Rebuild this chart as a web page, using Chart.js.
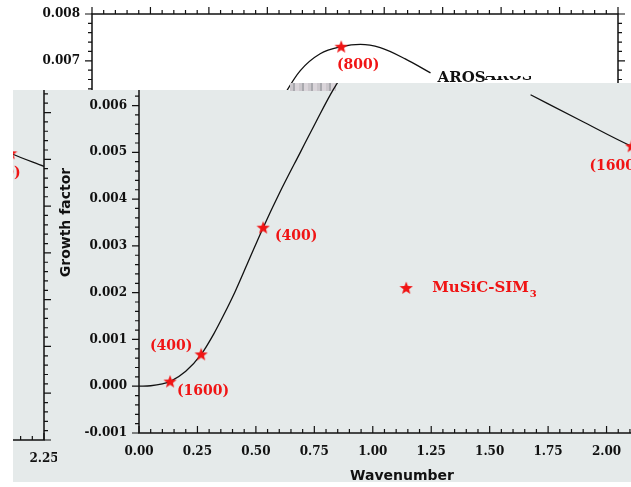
<!DOCTYPE html>
<html>
<head>
<meta charset="utf-8">
<script src="https://cdn.jsdelivr.net/npm/chart.js@4/dist/chart.umd.min.js"></script>
<style>
  html, body { margin: 0; padding: 0; background: #fff; width: 631px; height: 487px; overflow: hidden; position: relative; }
  .layer { position: absolute; left: 0; top: 0; width: 631px; height: 487px; overflow: hidden; }
  .layer canvas { position: absolute; }
  #backLayer { clip-path: polygon(0 0, 631px 0, 631px 91px, 0 91px); }
  #panel { background: #e5eaea; clip-path: polygon(13px 90px, 336px 90px, 336px 83px, 631px 83px, 631px 482px, 13px 482px); }
  #smudge { position: absolute; left: 290px; top: 83px; width: 46px; height: 8px;
            background: repeating-linear-gradient(90deg, #cbc7cc 0 3px, #a9a9ae 3px 5px, #dad5da 5px 9px); }
  #mainLayer { clip-path: polygon(13px 90px, 290px 90px, 290px 83px, 483px 83px, 483px 76px, 531px 76px, 531px 83px,
                                  631px 83px, 631px 482px, 13px 482px); }
  #stripLayer { clip-path: polygon(13px 90px, 57px 90px, 57px 482px, 13px 482px); }
</style>
</head>
<body>
<div class="layer" id="backLayer"><canvas id="backFig" width="690" height="487" style="left:-47px;top:2px;width:690px;height:487px"></canvas></div>
<div class="layer" id="panel"></div>
<div id="smudge"></div>
<div class="layer" id="stripLayer"><canvas id="stripFig" width="690" height="487" style="left:-621px;top:7px;width:690px;height:487px"></canvas></div>
<div class="layer" id="mainLayer"><canvas id="mainFig" width="690" height="487" style="left:0;top:0;width:690px;height:487px"></canvas></div>
<script>
// Growth factor of the unstable mode versus wavenumber
const wavenumber = [0.00, 0.05, 0.10, 0.133, 0.20, 0.266, 0.32, 0.36, 0.41, 0.467, 0.531, 0.60,
                    0.69, 0.758, 0.831, 0.891, 0.976, 1.066, 1.148, 1.233, 1.34, 1.448, 1.56, 1.675, 1.889, 2.107, 2.25];
const growth = [0.0, 0.00001, 0.00005, 0.0001, 0.00032, 0.00068, 0.00112, 0.00150, 0.00201, 0.00266, 0.00339, 0.00412,
                0.00500, 0.00566, 0.00634, 0.00679, 0.00715, 0.0073, 0.00735, 0.00728, 0.00704, 0.00674, null, 0.00623, 0.00568, 0.00513, 0.00485];

// MuSiC-SIM3 runs, labelled by resolution
const starWavenumber = [0.133, 0.266, 0.531, 1.066, 2.107];
const starGrowth = [0.0001, 0.00068, 0.00339, 0.0073, 0.00513];
const starLabels = ['(1600)', '(400)', '(400)', '(800)', '(1600)'];

const xTickValues = [0, 0.25, 0.5, 0.75, 1.0, 1.25, 1.5, 1.75, 2.0, 2.25];
const yTickValues = [-0.001, 0, 0.001, 0.002, 0.003, 0.004, 0.005, 0.006, 0.007, 0.008];

const curveName = 'AROS';
const legendName = 'MuSiC-SIM';
const legendSub = '3';

// placement of annotations (data units / pixel shifts)
const curveNameAt = [1.478, 0.00663];
const legendAt = [1.143, 0.0021];
const labelShift = [[33, 10], [-30, -8], [33, 9], [17, 19], [-16, 20]];

const RED = '#f01414';
const INK = '#111';

function starImage(size, color) {
  const c = document.createElement('canvas');
  c.width = c.height = size;
  const g = c.getContext('2d');
  const r = size / 2, ri = r * 0.42, cy = r * 1.06;
  g.beginPath();
  for (let i = 0; i < 10; i++) {
    const a = -Math.PI / 2 + i * Math.PI / 5;
    const rr = i % 2 ? ri : r;
    g.lineTo(r + rr * Math.cos(a), cy + rr * Math.sin(a));
  }
  g.closePath();
  g.fillStyle = color;
  g.fill();
  return c;
}
const starImg = starImage(14, RED);

// box frame with minor/major tick marks on all four sides
const framePlugin = {
  id: 'frame',
  afterDraw(chart) {
    const { ctx, chartArea: a, scales: { x, y } } = chart;
    ctx.save();
    ctx.strokeStyle = INK;
    ctx.lineWidth = 1.5;
    ctx.strokeRect(a.left, a.top, a.right - a.left, a.bottom - a.top);
    ctx.lineWidth = 1.2;
    ctx.beginPath();
    for (let i = 0; i <= 45; i++) {
      const px = x.getPixelForValue(i * 0.05);
      const len = i % 5 === 0 ? 7 : 4;
      ctx.moveTo(px, a.bottom); ctx.lineTo(px, a.bottom - len);
      ctx.moveTo(px, a.top); ctx.lineTo(px, a.top - len);
    }
    for (let i = 0; i <= 45; i++) {
      const py = y.getPixelForValue(-0.001 + i * 0.0002);
      const len = i % 5 === 0 ? 7 : 4;
      ctx.moveTo(a.left, py); ctx.lineTo(a.left - len, py);
      ctx.moveTo(a.right, py); ctx.lineTo(a.right + len, py);
    }
    ctx.stroke();
    ctx.restore();
  }
};

// resolution labels, curve name and legend entry
const annotatePlugin = {
  id: 'annotate',
  afterDatasetsDraw(chart) {
    const { ctx, scales: { x, y } } = chart;
    ctx.save();
    ctx.textBaseline = 'middle';
    ctx.textAlign = 'center';
    ctx.fillStyle = RED;
    ctx.font = 'bold 14px "DejaVu Serif"';
    starWavenumber.forEach((k, i) => {
      const [dx, dy] = labelShift[i];
      ctx.fillText(starLabels[i], x.getPixelForValue(k) + dx, y.getPixelForValue(starGrowth[i]) + dy);
    });

    ctx.textAlign = 'left';
    ctx.fillStyle = INK;
    ctx.font = 'bold 15px "DejaVu Serif"';
    ctx.fillText(curveName, x.getPixelForValue(curveNameAt[0]), y.getPixelForValue(curveNameAt[1]));

    const lx = x.getPixelForValue(legendAt[0]) + 26;
    const ly = y.getPixelForValue(legendAt[1]);
    ctx.fillStyle = RED;
    ctx.font = 'bold 15px "DejaVu Serif"';
    ctx.fillText(legendName, lx, ly);
    const w = ctx.measureText(legendName).width;
    ctx.font = 'bold 10px "DejaVu Serif"';
    ctx.fillText(legendSub, lx + w + 1, ly + 6);
    ctx.restore();
  }
};

const tickFont = { family: 'DejaVu Serif', weight: 'bold', size: 12 };
const titleFont = { family: 'DejaVu Sans', weight: 'bold', size: 14 };

function noOverflow(s) {
  s.paddingTop = 0; s.paddingBottom = 0; s.paddingLeft = 0; s.paddingRight = 0;
}

function makeFigure(canvas) {
  return new Chart(canvas, {
    type: 'line',
    data: {
      datasets: [
        {
          data: wavenumber.map((k, i) => ({ x: k, y: growth[i] })),
          borderColor: INK, borderWidth: 1.3, pointRadius: 0,
          cubicInterpolationMode: 'monotone', spanGaps: false, order: 2
        },
        {
          data: starWavenumber.map((k, i) => ({ x: k, y: starGrowth[i] })),
          showLine: false, pointStyle: starImg, pointRadius: 6, order: 1
        },
        {
          data: [{ x: legendAt[0], y: legendAt[1] }],
          showLine: false, pointStyle: starImg, pointRadius: 6, order: 1
        }
      ]
    },
    options: {
      responsive: false,
      animation: false,
      events: [],
      layout: { padding: { top: 12, right: 25, left: 0, bottom: 0 } },
      plugins: { legend: { display: false }, tooltip: { enabled: false } },
      scales: {
        x: {
          type: 'linear', min: 0, max: 2.25,
          afterBuildTicks: s => { s.ticks = xTickValues.map(v => ({ value: v })); },
          afterFit: s => { s.height = 54; noOverflow(s); },
          grid: { display: false, drawTicks: false, tickLength: 0 },
          border: { display: false },
          ticks: { padding: 12, font: tickFont, color: INK, autoSkip: false, maxRotation: 0,
                   callback: v => Number(v).toFixed(2) },
          title: { display: true, text: 'Wavenumber', font: titleFont, color: INK, padding: { top: 0, bottom: 2 } }
        },
        y: {
          type: 'linear', min: -0.001, max: 0.008,
          afterBuildTicks: s => { s.ticks = yTickValues.map(v => ({ value: v })); },
          afterFit: s => { s.width = 139; noOverflow(s); },
          grid: { display: false, drawTicks: false, tickLength: 0 },
          border: { display: false },
          ticks: { padding: 12, font: tickFont, color: INK, autoSkip: false,
                   callback: v => Number(v).toFixed(3) },
          title: { display: true, text: 'Growth factor', font: titleFont, color: INK, padding: { top: 58, bottom: 0 } }
        }
      }
    },
    plugins: [framePlugin, annotatePlugin]
  });
}

makeFigure(document.getElementById('backFig'));
makeFigure(document.getElementById('stripFig'));
makeFigure(document.getElementById('mainFig'));
</script>
</body>
</html>
